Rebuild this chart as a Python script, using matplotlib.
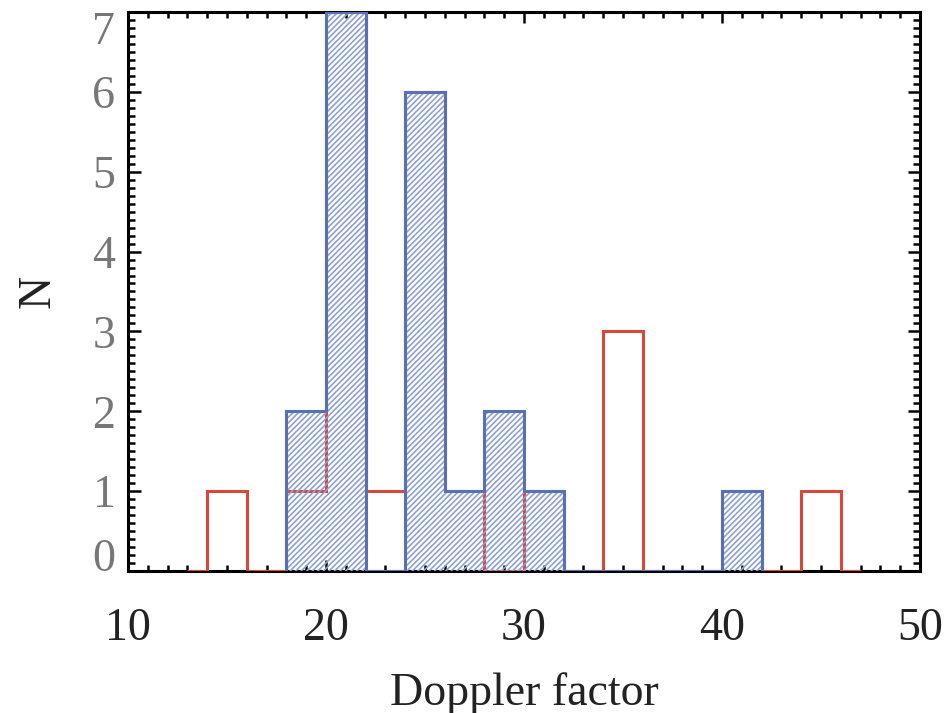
import matplotlib.pyplot as plt
from matplotlib.ticker import MultipleLocator

# histogram data (bin edges, counts)
red_edges = [13, 14, 16, 18, 20, 22, 24, 26, 28, 30, 32, 34, 36, 38, 40, 42, 44, 46, 47]
red_counts = [0, 1, 0, 1, 7, 1, 6, 1, 0, 1, 0, 3, 0, 0, 1, 0, 1, 0]

blue_edges = [18, 20, 22, 24, 26, 28, 30, 32, 34, 36, 38, 40, 42]
blue_counts = [2, 7, 0, 6, 1, 2, 1, 0, 0, 0, 0, 1]

xticks = [10, 20, 30, 40, 50]
yticks = [0, 1, 2, 3, 4, 5, 6, 7]

red = '#d8473b'
blue = '#5b70b3'
hatch_col = '#8fa1d2'

plt.rcParams['font.family'] = ['Liberation Serif', 'DejaVu Serif']
plt.rcParams['hatch.linewidth'] = 1.2

fig = plt.figure(figsize=(9.5, 7.13), dpi=100)
ax = fig.add_axes([0.1347, 0.1992, 0.8337, 0.784])

ax.stairs(red_counts, red_edges, color=red, linewidth=2.2, zorder=2)
ax.stairs(blue_counts, blue_edges, fill=True, facecolor='none', edgecolor=hatch_col,
          hatch='//////', linewidth=0, zorder=3)
ax.stairs(blue_counts, blue_edges, color=blue, linewidth=2.2, zorder=4)

ax.set_xlim(10, 50)
ax.set_ylim(0, 7)
ax.set_xticks(xticks)
ax.set_yticks(yticks)
ax.xaxis.set_minor_locator(MultipleLocator(1))
ax.yaxis.set_minor_locator(MultipleLocator(0.1))

for s in ax.spines.values():
    s.set_linewidth(2.2)
    s.set_zorder(1)

ax.tick_params(which='both', direction='in', top=True, right=True, width=1.8)
ax.tick_params(which='major', axis='x', length=8, labelsize=33, pad=26, labelcolor='#222222')
ax.tick_params(which='major', axis='y', length=9, labelsize=33, pad=9, labelcolor='#777777')
ax.tick_params(which='minor', axis='x', length=4)
ax.tick_params(which='minor', axis='y', length=5)

ylabs = ax.get_yticklabels()
ylabs[0].set_va('baseline')
ylabs[-1].set_va('top')

ax.set_xlabel('Doppler factor', fontsize=33, labelpad=16, color='#222222')
ax.set_ylabel('N', fontsize=33, labelpad=24, color='#222222')

fig.savefig('out.png', dpi=100)
